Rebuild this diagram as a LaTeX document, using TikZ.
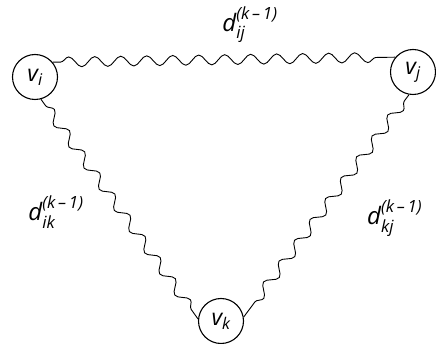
\documentclass[tikz,border=0pt]{standalone}
\usepackage{amsmath}
\usepackage{fontspec}
\setmainfont{Open Sans}
\usetikzlibrary{decorations.pathmorphing}
\newcommand{\vlab}[1]{$\text{\itshape v}_{\text{\itshape #1}}$}
\newcommand{\dlab}[1]{$\text{\itshape d}^{\text{\itshape (k\,–\,1)}}_{\text{\itshape #1}}$}
\begin{document}
\begin{tikzpicture}[x=1pt, y=-1pt,
    vertex/.style={draw, circle, line width=1.1pt, minimum size=45pt, inner sep=0pt,
                   font=\fontsize{23}{27}\selectfont},
    wave/.style={line width=0.9pt, decorate,
                 decoration={snake, segment length=26pt, amplitude=5pt, pre length=8pt, post length=8pt}},
    dist/.style={font=\fontsize{24}{28}\selectfont, inner sep=1pt}]

    \useasboundingbox (0,0) rectangle (436,344);

    \node[vertex] (vi) at (35,77) {\vlab{i}};
    \node[vertex] (vj) at (413,72) {\vlab{j}};
    \node[vertex] (vk) at (221,321) {\vlab{k}};

    \draw[wave] (vi.40) -- (vj.140);
    \draw[wave] (vi.-75) -- (vk.175);
    \draw[wave] (vj.-100) -- (vk.10);

    \node[dist] (dij) at (250,25) {\dlab{ij}};
    \node[dist] (dik) at (56,212) {\dlab{ik}};
    \node[dist, anchor=west] (dkj) at (366,218) {\dlab{kj}};
\end{tikzpicture}
\end{document}
